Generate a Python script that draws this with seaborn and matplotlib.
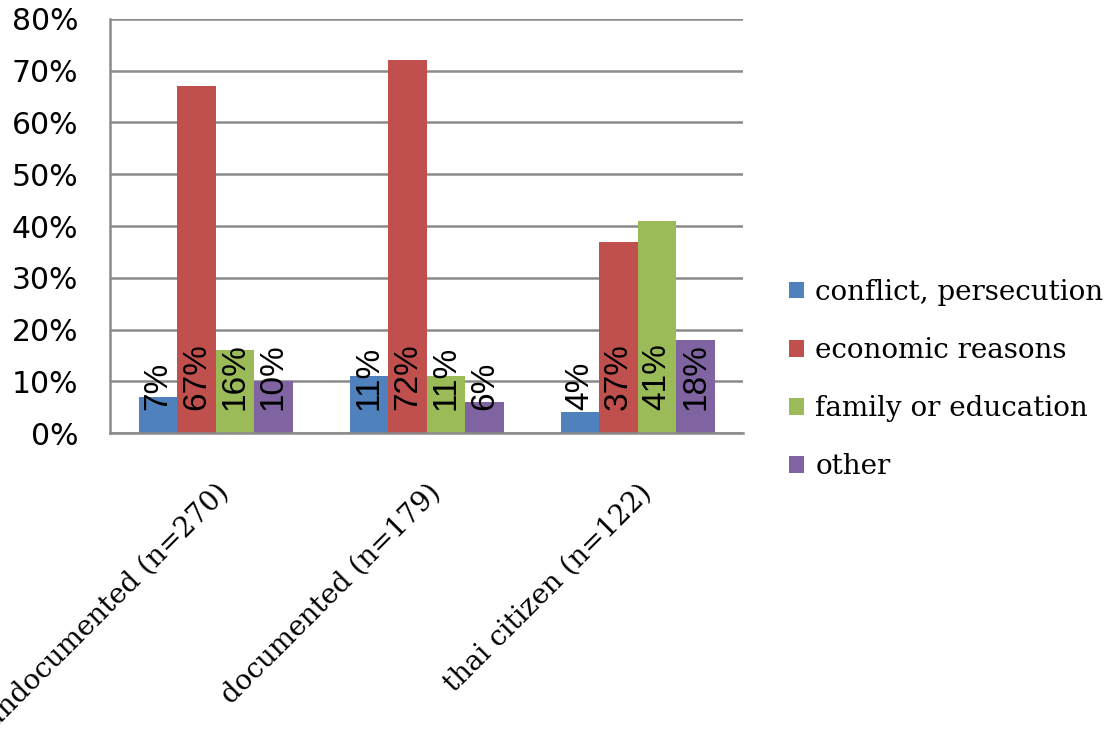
import matplotlib
matplotlib.use("Agg")
import matplotlib.pyplot as plt
from matplotlib.ticker import PercentFormatter, MultipleLocator
import seaborn as sns
import pandas as pd

# data
groups = ["undocumented (n=270)", "documented (n=179)", "thai citizen (n=122)"]
reasons = ["conflict, persecution", "economic reasons", "family or education", "other"]
conflict = [0.07, 0.11, 0.04]
economic = [0.67, 0.72, 0.37]
family = [0.16, 0.11, 0.41]
other = [0.10, 0.06, 0.18]
colors = ["#4F81BD", "#C0504D", "#9BBB59", "#8064A2"]

series = [conflict, economic, family, other]
rows = []
for reason, vals in zip(reasons, series):
    for g, v in zip(groups, vals):
        rows.append({"group": g, "reason": reason, "value": v})
df = pd.DataFrame(rows)

sns.set_style("white")
grid_col = "#8A8A8A"

fig = plt.figure(figsize=(11.19, 7.3), dpi=100)
ax = fig.add_axes([0.0983, 0.4068, 0.5661, 0.5672])

sns.barplot(data=df, x="group", y="value", hue="reason", hue_order=reasons,
            order=groups, palette=colors, saturation=1, width=0.73,
            linewidth=0, ax=ax, legend=True)

# value labels at the base of each bar
for cont, vals in zip(ax.containers, series):
    for bar, v in zip(cont, vals):
        ax.text(bar.get_x() + bar.get_width() / 2, 0.044, f"{round(v * 100)}%",
                rotation=90, ha="center", va="bottom", fontsize=24,
                family="Liberation Sans", color="black")

ax.set_ylim(0, 0.8)
ax.set_xlim(-0.5, 2.5)
ax.yaxis.set_major_locator(MultipleLocator(0.1))
ax.yaxis.set_major_formatter(PercentFormatter(1.0, decimals=0))
ax.grid(axis="y", color=grid_col, linewidth=1.8)
ax.set_axisbelow(True)
ax.set_xlabel("")
ax.set_ylabel("")

for s in ["top", "right"]:
    ax.spines[s].set_visible(False)
for s in ["left", "bottom"]:
    ax.spines[s].set_color(grid_col)
    ax.spines[s].set_linewidth(1.8)

ax.tick_params(axis="y", length=7, width=1.8, color=grid_col, pad=16,
               labelsize=21.5, labelcolor="black")
for lab in ax.get_yticklabels():
    lab.set_family("DejaVu Sans")

ax.set_xticks([0, 1, 2])
ax.set_xticklabels(groups, rotation=45, ha="right", va="top",
                   rotation_mode="anchor", family="DejaVu Serif", fontsize=20,
                   color="black")
ax.tick_params(axis="x", length=0, pad=33)
ax.set_xticks([-0.5, 0.5, 1.5, 2.5], minor=True)
ax.tick_params(axis="x", which="minor", length=7, width=1.8, color=grid_col)

handles, labels = ax.get_legend_handles_labels()
leg = ax.legend(handles, labels, loc="center left", bbox_to_anchor=(0.695, 0.480),
                bbox_transform=fig.transFigure, frameon=False,
                prop={"family": "DejaVu Serif", "size": 20},
                handlelength=0.55, handleheight=0.55, handletextpad=0.4,
                labelspacing=1.12, borderaxespad=0)
for t in leg.get_texts():
    t.set_color("black")

fig.savefig("out.png", dpi=100)
